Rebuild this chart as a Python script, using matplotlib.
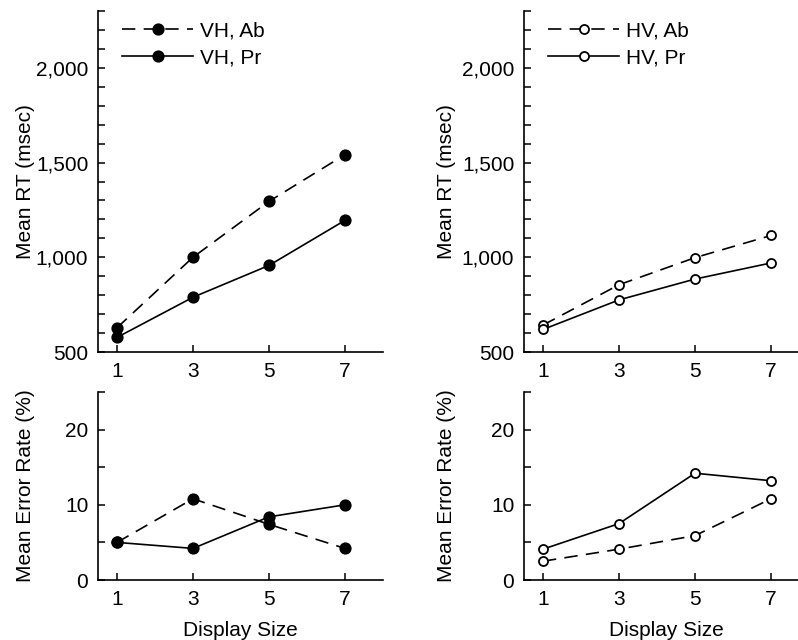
import matplotlib
matplotlib.use("Agg")
import matplotlib.pyplot as plt
from matplotlib.ticker import MultipleLocator, StrMethodFormatter

plt.rcParams['font.family'] = ['Liberation Sans', 'DejaVu Sans']

# Data
display_size = [1, 3, 5, 7]
vh_ab_rt = [628, 1000, 1295, 1542]
vh_pr_rt = [577, 789, 957, 1195]
hv_ab_rt = [642, 855, 998, 1115]
hv_pr_rt = [619, 775, 885, 970]
vh_ab_err = [5.0, 10.8, 7.4, 4.2]
vh_pr_err = [5.0, 4.2, 8.4, 10.0]
hv_ab_err = [2.5, 4.1, 5.9, 10.8]
hv_pr_err = [4.1, 7.5, 14.2, 13.2]

FS = 15
LW = 1.2
DASH = (8, 5)

fig = plt.figure(figsize=(7.98, 6.4), dpi=100)

W = 285 / 798
ax_tl = fig.add_axes([98 / 798, 1 - 352 / 640, W, 341 / 640])
ax_tr = fig.add_axes([524 / 798, 1 - 352 / 640, W, 341 / 640])
ax_bl = fig.add_axes([98 / 798, 1 - 580 / 640, W, 188 / 640])
ax_br = fig.add_axes([524 / 798, 1 - 580 / 640, W, 188 / 640])


def style(ax):
    for s in ("top", "right"):
        ax.spines[s].set_visible(False)
    for s in ("left", "bottom"):
        ax.spines[s].set_linewidth(1.2)
    ax.set_xlim(0.5, 8.0)
    ax.set_xticks(display_size)
    ax.tick_params(which="both", direction="in", length=5, width=1.1,
                   labelsize=FS, colors="black")
    ax.tick_params(axis="x", pad=7)
    ax.tick_params(axis="y", pad=7)


def draw(ax, ab, pr, filled):
    fc = "black" if filled else "white"
    ms = 7.5 if filled else 6.5
    ax.plot(display_size, ab, color="black", lw=LW, dashes=DASH,
            marker="o", ms=ms, mfc=fc, mec="black", mew=1.3, clip_on=False)
    ax.plot(display_size, pr, color="black", lw=LW,
            marker="o", ms=ms, mfc=fc, mec="black", mew=1.3, clip_on=False)


# RT panels
for ax, ab, pr, filled, names, lx in [
        (ax_tl, vh_ab_rt, vh_pr_rt, True, ("VH, Ab", "VH, Pr"), -0.22),
        (ax_tr, hv_ab_rt, hv_pr_rt, False, ("HV, Ab", "HV, Pr"), -0.24)]:
    style(ax)
    draw(ax, ab, pr, filled)
    ax.set_ylim(500, 2300)
    ax.yaxis.set_major_locator(MultipleLocator(500))
    ax.yaxis.set_minor_locator(MultipleLocator(100))
    ax.yaxis.set_major_formatter(StrMethodFormatter("{x:,.0f}"))
    ax.set_ylabel("Mean RT (msec)", fontsize=FS)
    ax.yaxis.set_label_coords(lx, 0.5)
    ax.legend(names, loc="upper left", bbox_to_anchor=(0.02, 1.025),
              frameon=False, fontsize=FS, handlelength=3.4,
              handletextpad=0.3, labelspacing=0.38)

# Error panels
for ax, ab, pr, filled, lx in [(ax_bl, vh_ab_err, vh_pr_err, True, -0.22),
                               (ax_br, hv_ab_err, hv_pr_err, False, -0.24)]:
    style(ax)
    draw(ax, ab, pr, filled)
    ax.set_ylim(0, 25)
    ax.yaxis.set_major_locator(MultipleLocator(10))
    ax.yaxis.set_minor_locator(MultipleLocator(5))
    ax.set_ylabel("Mean Error Rate (%)", fontsize=FS)
    ax.yaxis.set_label_coords(lx, 0.5)
    ax.set_xlabel("Display Size", fontsize=FS, labelpad=9)

fig.savefig("out.png", dpi=100)
